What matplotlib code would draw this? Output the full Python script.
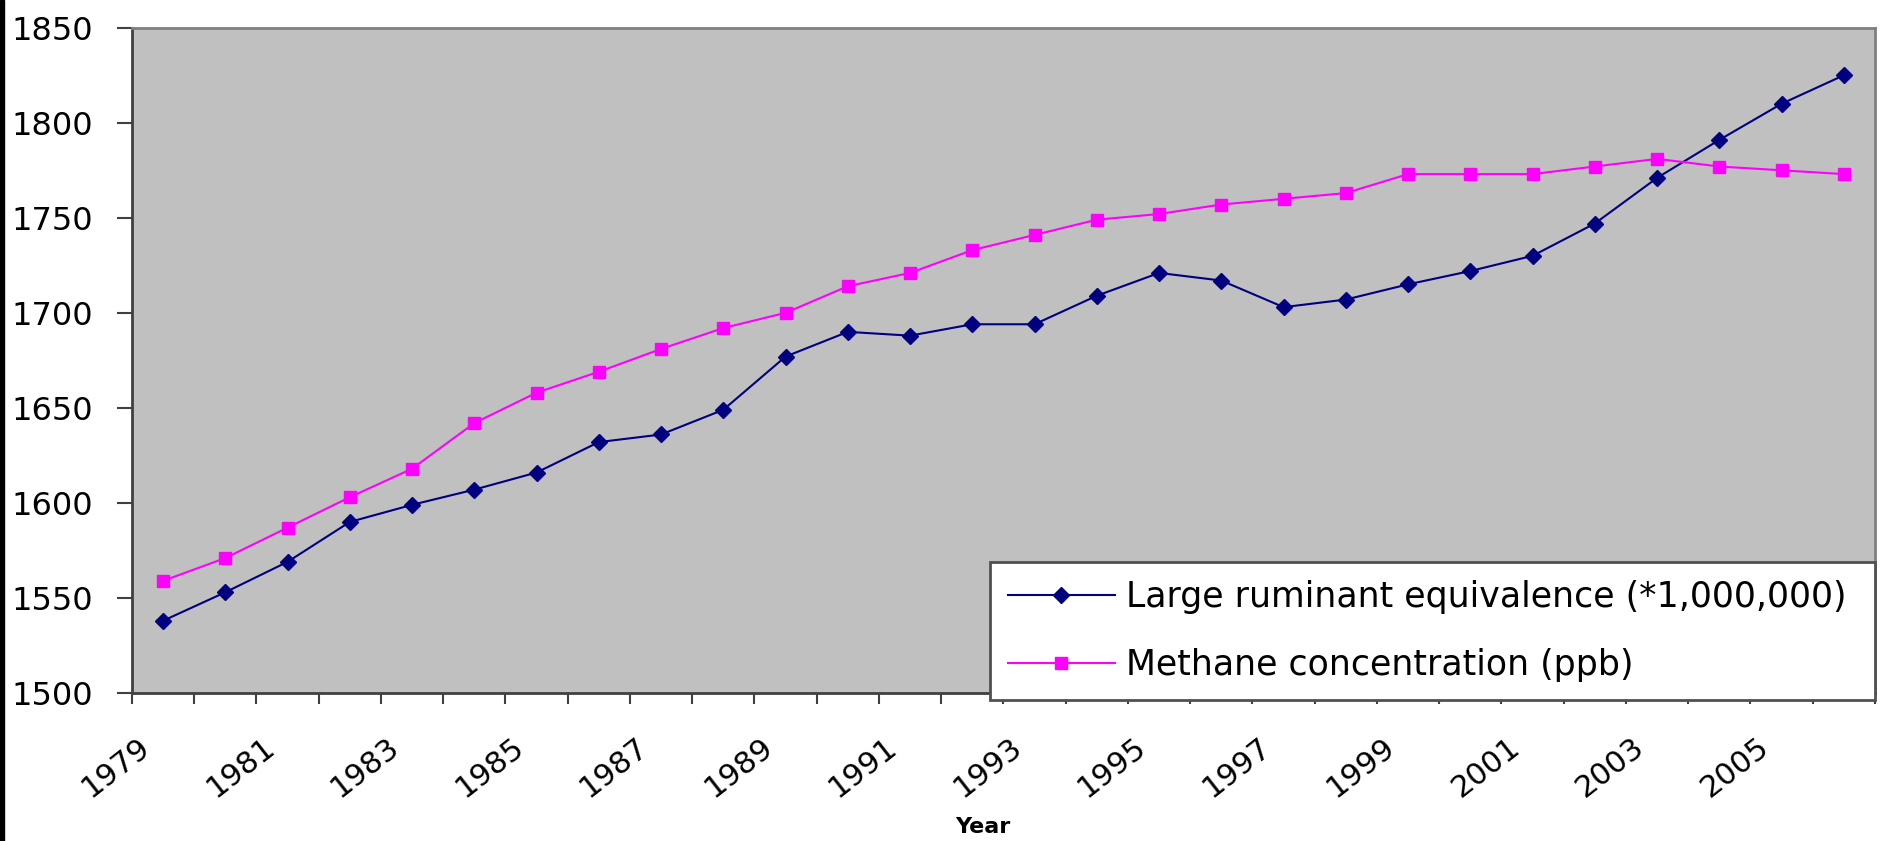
import numpy as np
import matplotlib
matplotlib.use('Agg')
import matplotlib.pyplot as plt
import matplotlib.transforms as mtransforms
from matplotlib.patches import Rectangle

# data
years = list(range(1979, 2007))
ruminant = [1538, 1553, 1569, 1590, 1599, 1607, 1616, 1632, 1636, 1649,
            1677, 1690, 1688, 1694, 1694, 1709, 1721, 1717, 1703, 1707,
            1715, 1722, 1730, 1747, 1771, 1791, 1810, 1825]
methane = [1559, 1571, 1587, 1603, 1618, 1642, 1658, 1669, 1681, 1692,
           1700, 1714, 1721, 1733, 1741, 1749, 1752, 1757, 1760, 1763,
           1773, 1773, 1773, 1777, 1781, 1777, 1775, 1773]
label_ruminant = 'Large ruminant equivalence (*1,000,000)'
label_methane = 'Methane concentration (ppb)'
y_ticks = [1500, 1550, 1600, 1650, 1700, 1750, 1800, 1850]

plt.rcParams['font.family'] = ['DejaVu Sans']

fig = plt.figure(figsize=(18.8, 8.41), dpi=100)
ax = fig.add_axes([0.0702, 0.176, 0.9271, 0.791])
ax.set_facecolor('#C0C0C0')

x = np.arange(len(years))
ax.plot(x, ruminant, color='#000080', lw=1.5, marker='D', ms=8,
        label=label_ruminant, zorder=3)
ax.plot(x, methane, color='#FF00FF', lw=1.5, marker='s', ms=8,
        label=label_methane, zorder=3)

ax.set_xlim(-0.5, len(years) - 0.5)
ax.set_ylim(1500, 1850)
ax.set_yticks(y_ticks)
ax.tick_params(axis='y', labelsize=23, length=11, width=1.5, color='#404040', pad=17)

# category boundaries as tick marks, labels on every other year
ax.set_xticks(np.arange(-0.5, len(years)), minor=False)
ax.set_xticklabels([])
ax.tick_params(axis='x', which='major', length=8, width=1.5, color='#404040')
ax.set_xticks(x[::2], minor=True)
ax.set_xticklabels([str(y) for y in years[::2]], minor=True)
ax.tick_params(axis='x', which='minor', length=0, labelsize=22, pad=41)
shift = mtransforms.ScaledTranslation(-11 / 100, 0, fig.dpi_scale_trans)
for lbl in ax.get_xticklabels(minor=True):
    lbl.set_rotation(38)
    lbl.set_ha('right')
    lbl.set_va('baseline')
    lbl.set_rotation_mode('anchor')
    lbl.set_transform(lbl.get_transform() + shift)

for side in ['left', 'bottom']:
    ax.spines[side].set_color('#404040')
    ax.spines[side].set_linewidth(2)
for side in ['top', 'right']:
    ax.spines[side].set_color('#808080')
    ax.spines[side].set_linewidth(2)

ax.set_xlabel('Year', fontsize=16, fontweight='bold')
ax.xaxis.set_label_coords(0.488, -0.186)

leg = ax.legend(loc='lower left', bbox_to_anchor=(0.492, -0.0105, 0.508, 0.2),
                mode='expand', fontsize=25, frameon=True, fancybox=False,
                framealpha=1, facecolor='white', edgecolor='#505050',
                handlelength=3.1, handletextpad=0.3, labelspacing=0.97,
                borderpad=0.52, borderaxespad=0)
leg.get_frame().set_linewidth(2)
leg.set_zorder(5)

fig.patches.append(Rectangle((0, 0), 4 / 1880, 1, transform=fig.transFigure,
                             color='black', zorder=10))

fig.savefig('out.png', dpi=100, facecolor='white')
